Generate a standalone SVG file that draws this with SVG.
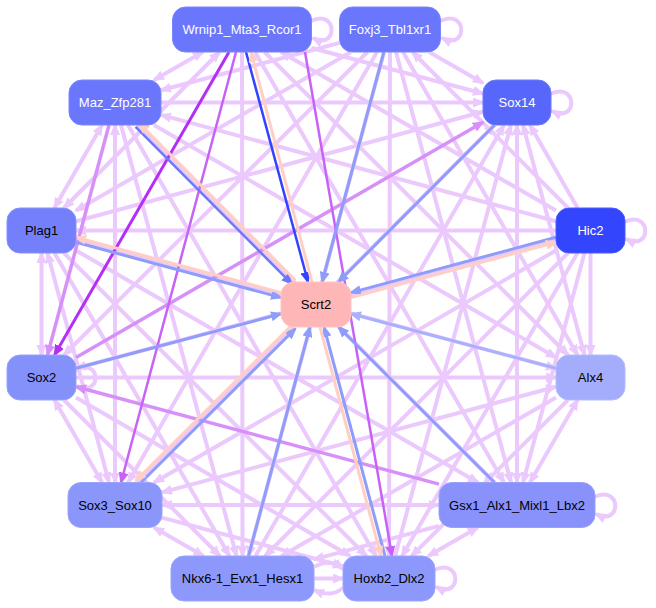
<svg xmlns="http://www.w3.org/2000/svg" width="656" height="608" viewBox="0 0 656 608">
<defs>
<style>
.e{stroke:#ebc9fd;stroke-width:4;fill:none;marker-end:url(#aL)}
.b{marker-start:url(#aL)}
.m{stroke:#d690f8;stroke-width:3.5;fill:none;marker-end:url(#aM)}
.m2{stroke:#c862f6;stroke-width:2.5;fill:none;marker-end:url(#aM2)}
.d{stroke:#b42ef6;stroke-width:3;fill:none;marker-end:url(#aD)}
.bl{stroke:#8e9cfa;stroke-width:3;fill:none;marker-end:url(#aB)}
.bd{stroke:#3344ff;stroke-width:2.5;fill:none;marker-end:url(#aBD)}
.bm{stroke:#6b78fb;stroke-width:2.5;fill:none;marker-end:url(#aBM)}
.bx{stroke:#a7b1fc;stroke-width:3;fill:none;marker-end:url(#aBX)}
.s{stroke:#ffcfc4;stroke-width:3;fill:none;marker-end:url(#aS)}
.n rect{stroke-width:1}
.n text{font-family:"Liberation Sans",Arial,sans-serif;font-size:13px;text-anchor:middle;dominant-baseline:central}
.w text{fill:#ffffff}
.k text{fill:#000000}
</style>
<marker id="aL" viewBox="0 0 12 10" refX="10" refY="5" markerWidth="12" markerHeight="10" markerUnits="userSpaceOnUse" orient="auto-start-reverse"><path d="M0,0L12,5L0,10z" fill="#ebc9fd"/></marker>
<marker id="aM" viewBox="0 0 12 10" refX="10" refY="5" markerWidth="12" markerHeight="10" markerUnits="userSpaceOnUse" orient="auto-start-reverse"><path d="M0,0L12,5L0,10z" fill="#d690f8"/></marker>
<marker id="aM2" viewBox="0 0 12 10" refX="10" refY="5" markerWidth="12" markerHeight="10" markerUnits="userSpaceOnUse" orient="auto-start-reverse"><path d="M0,0L12,5L0,10z" fill="#c862f6"/></marker>
<marker id="aD" viewBox="0 0 12 10" refX="10" refY="5" markerWidth="12" markerHeight="10" markerUnits="userSpaceOnUse" orient="auto-start-reverse"><path d="M0,0L12,5L0,10z" fill="#b42ef6"/></marker>
<marker id="aB" viewBox="0 0 12 10" refX="10" refY="5" markerWidth="12" markerHeight="10" markerUnits="userSpaceOnUse" orient="auto-start-reverse"><path d="M0,0L12,5L0,10z" fill="#8e9cfa"/></marker>
<marker id="aBD" viewBox="0 0 12 10" refX="10" refY="5" markerWidth="12" markerHeight="10" markerUnits="userSpaceOnUse" orient="auto-start-reverse"><path d="M0,0L12,5L0,10z" fill="#3344ff"/></marker>
<marker id="aBM" viewBox="0 0 12 10" refX="10" refY="5" markerWidth="12" markerHeight="10" markerUnits="userSpaceOnUse" orient="auto-start-reverse"><path d="M0,0L12,5L0,10z" fill="#6b78fb"/></marker>
<marker id="aBX" viewBox="0 0 12 10" refX="10" refY="5" markerWidth="12" markerHeight="10" markerUnits="userSpaceOnUse" orient="auto-start-reverse"><path d="M0,0L12,5L0,10z" fill="#a7b1fc"/></marker>
<marker id="aS" viewBox="0 0 12 10" refX="10" refY="5" markerWidth="12" markerHeight="10" markerUnits="userSpaceOnUse" orient="auto-start-reverse"><path d="M0,0L12,5L0,10z" fill="#ffcfc4"/></marker>
</defs>
<rect width="656" height="608" fill="#ffffff"/>
<g id="edges">
<!-- self loops -->
<path class="e" d="M311,21 C338,8 338,51 313,38"/>
<path class="e" d="M440,21 C468,8 468,51 442,38"/>
<path class="e" d="M550,94 C578,81 578,124 552,111"/>
<path class="e" d="M624,222 C652,209 652,252 626,239"/>
<path class="e" d="M75,369 C102,358 102,397 77,386"/>
<path class="e" d="M594,497 C622,484 622,527 596,514"/>
<path class="e" d="M434,570 C462,557 462,600 436,587"/>
<!-- Nkx6 <-> Hoxb2 -->
<path class="e" d="M314,567 C326,560 334,562 343,569"/>
<line class="e" x1="314" y1="578.5" x2="343" y2="578.5"/>
<path class="e" d="M343,588 C334,595 326,595 314,590"/>
<!-- light edges -->
<line class="e b" x1="202.9" y1="52" x2="154.1" y2="80"/>
<line class="e" x1="311.5" y1="48" x2="483" y2="93.5"/>
<line class="e b" x1="219.6" y1="52" x2="63.9" y2="208"/>
<line class="e" x1="556" y1="210.6" x2="281" y2="52"/>
<line class="e" x1="264.5" y1="52" x2="568" y2="355"/>
<line class="e" x1="255" y1="52" x2="504" y2="482.5"/>
<line class="e" x1="242" y1="52" x2="242.5" y2="556"/>
<line class="e" x1="339.5" y1="42.9" x2="161" y2="90.3"/>
<line class="e" x1="429.1" y1="52" x2="483" y2="82.9"/>
<line class="e" x1="351" y1="52" x2="76" y2="210.6"/>
<line class="e" x1="568.1" y1="208" x2="412.4" y2="52"/>
<line class="e" x1="367.5" y1="52" x2="64" y2="355"/>
<line class="e" x1="403" y1="52" x2="577.5" y2="355"/>
<line class="e" x1="377" y1="52" x2="128" y2="482.5"/>
<line class="e" x1="396" y1="52" x2="511" y2="482.5"/>
<line class="e" x1="384" y1="52" x2="248.5" y2="556"/>
<line class="e" x1="390" y1="52" x2="389" y2="556"/>
<line class="e" x1="161" y1="102.5" x2="483" y2="102.5"/>
<line class="e b" x1="102.1" y1="125" x2="54.4" y2="208"/>
<line class="e" x1="556" y1="221.2" x2="161" y2="114.9"/>
<line class="e" x1="153.9" y1="125" x2="556" y2="357.5"/>
<line class="e b" x1="115" y1="125" x2="115" y2="482.5"/>
<line class="e" x1="137.5" y1="125" x2="494.5" y2="482.5"/>
<line class="e" x1="121" y1="125" x2="236.5" y2="556"/>
<line class="e" x1="128" y1="125" x2="376" y2="556"/>
<line class="e" x1="76" y1="221.2" x2="483" y2="111.7"/>
<line class="e" x1="577.6" y1="208" x2="529.9" y2="125"/>
<line class="e b" x1="523" y1="125" x2="584.5" y2="355"/>
<line class="e" x1="137.5" y1="482.5" x2="494.5" y2="125"/>
<line class="e b" x1="517" y1="482.5" x2="517" y2="125"/>
<line class="e" x1="255.5" y1="556" x2="504" y2="125"/>
<line class="e" x1="395.1" y1="556" x2="510.9" y2="125"/>
<line class="e" x1="556" y1="230.5" x2="76" y2="230.5"/>
<line class="e b" x1="41.5" y1="253" x2="41.5" y2="355"/>
<line class="e" x1="76" y1="239.7" x2="556" y2="368.3"/>
<line class="e b" x1="47.5" y1="253" x2="109" y2="482.5"/>
<line class="e" x1="76" y1="250.4" x2="478" y2="482.5"/>
<line class="e" x1="54.5" y1="253" x2="229.5" y2="556"/>
<line class="e" x1="64" y1="253" x2="366.5" y2="556"/>
<line class="e" x1="556" y1="239.7" x2="76" y2="368.3"/>
<line class="e" x1="590.5" y1="253" x2="590.5" y2="355"/>
<line class="e" x1="556" y1="250.4" x2="154" y2="482.5"/>
<line class="e" x1="584.5" y1="253" x2="523" y2="482.5"/>
<line class="e" x1="568" y1="253" x2="265" y2="556"/>
<line class="e" x1="577.5" y1="253" x2="402" y2="556"/>
<line class="e" x1="76" y1="377.5" x2="556" y2="377.5"/>
<line class="e b" x1="54.4" y1="400" x2="102.1" y2="482.5"/>
<line class="e" x1="64" y1="400" x2="220" y2="556"/>
<line class="e" x1="76" y1="397.5" x2="350.1" y2="556"/>
<line class="e b" x1="556" y1="386.8" x2="162" y2="492.4"/>
<line class="e b" x1="577.6" y1="400" x2="529.9" y2="482.5"/>
<line class="e" x1="556" y1="397.4" x2="281.5" y2="556"/>
<line class="e" x1="567.9" y1="400" x2="411.6" y2="556"/>
<line class="e b" x1="162" y1="505" x2="439" y2="505"/>
<line class="e b" x1="154" y1="527.5" x2="203.5" y2="556"/>
<line class="e" x1="162" y1="517.6" x2="343" y2="566.2"/>
<line class="e" x1="439" y1="525.9" x2="314" y2="559.4"/>
<line class="e b" x1="477.8" y1="527.5" x2="428.2" y2="556"/>
<!-- stronger purple edges -->
<line class="m" x1="76" y1="357.5" x2="483" y2="122.2"/>
<line class="m" x1="439" y1="484.1" x2="76" y2="386.8"/>
<line class="m" x1="109" y1="125" x2="47.5" y2="355"/>
<line class="m2" x1="305" y1="52" x2="392" y2="556"/>
<line class="m2" x1="236" y1="52" x2="121" y2="482.5"/>
<line class="d" x1="229" y1="52" x2="54.5" y2="355"/>
<!-- edges to/from Scrt2 -->
<line class="bd" x1="246" y1="52" x2="308" y2="282"/>
<line class="s" x1="312" y1="282" x2="251" y2="52"/>
<line class="bl" x1="383.9" y1="52" x2="322.1" y2="282"/>
<line class="bm" x1="135.6" y1="126.8" x2="291.8" y2="283.8"/>
<line class="s" x1="295.4" y1="280.2" x2="139.2" y2="123.2"/>
<line class="bl" x1="494.6" y1="125" x2="338.4" y2="282"/>
<line class="bl" x1="76" y1="242.3" x2="281" y2="297.6"/>
<line class="s" x1="281" y1="292.6" x2="76" y2="237.3"/>
<line class="bl" x1="556" y1="237.3" x2="351" y2="292.6"/>
<line class="s" x1="351" y1="297.6" x2="556" y2="242.3"/>
<line class="bl" x1="76" y1="368.2" x2="281" y2="313.8"/>
<line class="bx" x1="556" y1="368.2" x2="351" y2="313.8"/>
<line class="bl" x1="139.3" y1="484.3" x2="295.3" y2="328.8"/>
<line class="s" x1="291.7" y1="325.2" x2="135.7" y2="480.7"/>
<line class="bl" x1="494.5" y1="482.5" x2="338.5" y2="327"/>
<line class="bl" x1="248.5" y1="556" x2="310" y2="327"/>
<line class="bl" x1="385" y1="556" x2="324" y2="327"/>
<line class="s" x1="320" y1="327" x2="381" y2="556"/>
</g>
<g id="Wrnip1_Mta3_Rcor1" class="n w"><rect x="172.5" y="7" width="139" height="45" rx="13" fill="#6a76fb" stroke="#7a86fb"/><text x="242" y="29.5">Wrnip1_Mta3_Rcor1</text></g>
<g id="Foxj3_Tbl1xr1" class="n w"><rect x="339.5" y="7" width="101" height="45" rx="13" fill="#6a76fb" stroke="#7a86fb"/><text x="390" y="29.5">Foxj3_Tbl1xr1</text></g>
<g id="Maz_Zfp281" class="n w"><rect x="69" y="80" width="92" height="45" rx="13" fill="#6a76fb" stroke="#7a86fb"/><text x="115" y="102.5">Maz_Zfp281</text></g>
<g id="Sox14" class="n w"><rect x="483" y="80" width="68" height="45" rx="13" fill="#5867fb" stroke="#6a78fb"/><text x="517" y="102.5">Sox14</text></g>
<g id="Plag1" class="n k"><rect x="7" y="208" width="69" height="45" rx="13" fill="#7480fb" stroke="#8590fb"/><text x="41.5" y="230.5">Plag1</text></g>
<g id="Hic2" class="n w"><rect x="556" y="208" width="69" height="45" rx="13" fill="#3446fd" stroke="#4a5afd"/><text x="590.5" y="230.5">Hic2</text></g>
<g id="Scrt2" class="n k"><rect x="281" y="282" width="70" height="45" rx="13" fill="#ffb6b6" stroke="#ffc4c4"/><text x="316" y="304.5">Scrt2</text></g>
<g id="Sox2" class="n k"><rect x="7" y="355" width="69" height="45" rx="13" fill="#8591fa" stroke="#97a1fb"/><text x="41.5" y="377.5">Sox2</text></g>
<g id="Alx4" class="n k"><rect x="556" y="355" width="69" height="45" rx="13" fill="#a3adfc" stroke="#b3bbfc"/><text x="590.5" y="377.5">Alx4</text></g>
<g id="Sox3_Sox10" class="n k"><rect x="68" y="482.5" width="94" height="45" rx="13" fill="#8a96fa" stroke="#9ba5fb"/><text x="115" y="505">Sox3_Sox10</text></g>
<g id="Gsx1_Alx1_Mixl1_Lbx2" class="n k"><rect x="439" y="482.5" width="156" height="45" rx="13" fill="#8892fa" stroke="#99a2fb"/><text x="517" y="505">Gsx1_Alx1_Mixl1_Lbx2</text></g>
<g id="Nkx6-1_Evx1_Hesx1" class="n k"><rect x="171" y="556" width="143" height="45" rx="13" fill="#8c98fb" stroke="#9ca6fb"/><text x="242.5" y="578.5">Nkx6-1_Evx1_Hesx1</text></g>
<g id="Hoxb2_Dlx2" class="n k"><rect x="343" y="556" width="92" height="45" rx="13" fill="#8c98fb" stroke="#9ca6fb"/><text x="389" y="578.5">Hoxb2_Dlx2</text></g>
</svg>
